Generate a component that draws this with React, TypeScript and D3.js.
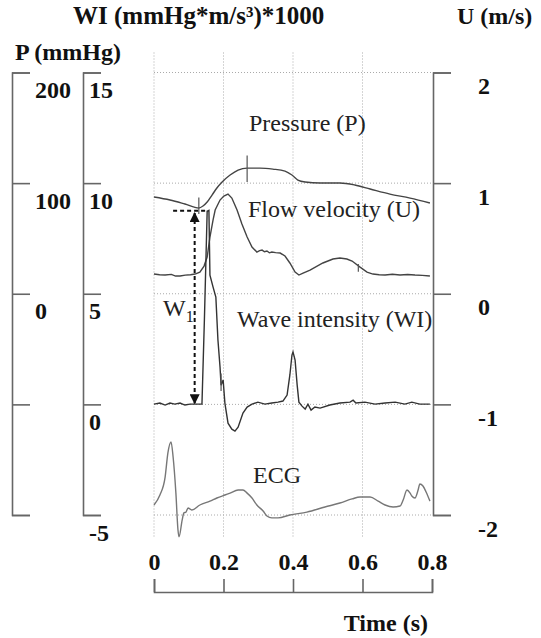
import React, { useEffect, useRef } from "react";
import * as d3 from "d3";

// time (s) ticks and the three stacked y axes
const TIME_TICKS = [0, 0.2, 0.4, 0.6, 0.8];
const P_TICKS = [200, 100, 0, -100, -200];
const WI_TICKS = [15, 10, 5, 0, -5];
const U_TICKS = [2, 1, 0, -1, -2];

// pressure, mmHg  [t, P]
const pressure: [number, number][] = [
  [0, 87.4], [0.046, 84.7], [0.089, 81.1], [0.129, 77.5], [0.141, 79.3], [0.153, 82.9],
  [0.167, 89.2], [0.181, 95.6], [0.196, 101.0], [0.219, 107.3], [0.242, 111.8],
  [0.268, 113.6], [0.305, 113.6], [0.342, 112.7], [0.377, 110.9], [0.397, 107.3],
  [0.414, 102.8], [0.435, 101.0], [0.478, 100.1], [0.535, 100.1], [0.578, 98.3],
  [0.622, 94.7], [0.679, 90.1], [0.737, 86.5], [0.794, 82.0],
];

// flow velocity, m/s  [t, U]
const flow: [number, number][] = [
  [0, 0.178], [0.016, 0.172], [0.032, 0.169], [0.05, 0.175], [0.062, 0.16], [0.075, 0.16],
  [0.09, 0.168], [0.105, 0.172], [0.118, 0.178], [0.132, 0.196], [0.144, 0.25],
  [0.153, 0.332], [0.161, 0.513], [0.17, 0.667], [0.176, 0.757], [0.19, 0.847],
  [0.201, 0.883], [0.213, 0.901], [0.224, 0.865], [0.239, 0.757], [0.253, 0.631],
  [0.268, 0.513], [0.282, 0.422], [0.296, 0.377], [0.304, 0.39], [0.311, 0.395],
  [0.318, 0.38], [0.325, 0.386], [0.332, 0.37], [0.339, 0.377], [0.35, 0.372],
  [0.363, 0.368], [0.377, 0.341], [0.391, 0.278], [0.406, 0.196], [0.417, 0.169],
  [0.429, 0.187], [0.449, 0.214], [0.486, 0.278], [0.515, 0.314], [0.535, 0.323],
  [0.555, 0.314], [0.57, 0.296], [0.593, 0.241], [0.613, 0.196], [0.63, 0.178],
  [0.648, 0.172], [0.665, 0.169], [0.686, 0.176], [0.708, 0.169], [0.73, 0.174],
  [0.751, 0.169], [0.772, 0.166], [0.794, 0.16],
];

// wave intensity, (mmHg*m/s^3)*1000  [t, WI]
const waveIntensity: [number, number][] = [
  [0, 0.01], [0.017, 0.06], [0.032, -0.03], [0.046, 0.06], [0.06, 0.01], [0.075, 0.06],
  [0.089, -0.03], [0.104, 0.01], [0.121, 0.01], [0.132, 0.01], [0.138, 0.01],
  [0.145, 3.81], [0.153, 8.73], [0.158, 8.77], [0.161, 5.84], [0.17, 5.3], [0.178, 4.85],
  [0.184, 2.91], [0.19, 1.69], [0.193, 0.87], [0.199, 1.1], [0.204, 0.06], [0.213, -0.85],
  [0.224, -1.12], [0.233, -1.21], [0.242, -1.03], [0.256, -0.39], [0.268, -0.12],
  [0.282, 0.01], [0.299, 0.1], [0.319, 0.01], [0.339, 0.06], [0.357, 0.1], [0.371, 0.15],
  [0.383, 0.42], [0.391, 1.33], [0.397, 2.23], [0.4, 2.37], [0.406, 2.0], [0.412, 0.87],
  [0.417, 0.1], [0.426, -0.08], [0.435, -0.21], [0.443, 0.01], [0.452, -0.26],
  [0.463, -0.12], [0.478, -0.17], [0.506, -0.03], [0.535, 0.06], [0.564, 0.1],
  [0.573, 0.19], [0.581, 0.06], [0.607, 0.1], [0.636, 0.01], [0.665, 0.06], [0.694, 0.1],
  [0.722, 0.01], [0.742, 0.1], [0.765, 0.01], [0.794, 0.01],
];

// ECG, arbitrary mV  [t, mV]
const ecg: [number, number][] = [
  [0, 0.137], [0.017, 0.274], [0.032, 0.52], [0.04, 0.85], [0.049, 1.0], [0.055, 0.795],
  [0.063, 0.3], [0.069, -0.205], [0.072, -0.3], [0.081, -0.07], [0.086, 0.03],
  [0.092, 0.04], [0.098, 0.096], [0.104, 0.082], [0.109, 0.068], [0.132, 0.137],
  [0.161, 0.19], [0.181, 0.233], [0.204, 0.274], [0.219, 0.3], [0.242, 0.342],
  [0.256, 0.342], [0.268, 0.3], [0.282, 0.233], [0.296, 0.137], [0.314, 0.055],
  [0.325, -0.014], [0.339, -0.04], [0.357, -0.04], [0.391, 0], [0.44, 0.04],
  [0.492, 0.11], [0.535, 0.164], [0.57, 0.22], [0.593, 0.247], [0.622, 0.247],
  [0.645, 0.19], [0.665, 0.137], [0.688, 0.11], [0.708, 0.123], [0.717, 0.205],
  [0.728, 0.342], [0.737, 0.3], [0.742, 0.26], [0.751, 0.233], [0.76, 0.342],
  [0.765, 0.425], [0.774, 0.397], [0.783, 0.315], [0.794, 0.19],
];

// small vertical markers on the traces  [t, from, to]
const pressureMarks: [number, number, number][] = [[0.129, 72, 87], [0.268, 101, 125]];
const wiMarks: [number, number, number][] = [[0.193, 0.6, 1.4]];
const flowMarks: [number, number, number][] = [[0.588, 0.2, 0.27]];

// W1 peak of forward compression wave
const W1_PEAK = 8.75;
const W1_TIME = 0.117;

const App = () => {
  const svgRef = useRef<SVGSVGElement>(null);

  useEffect(() => {
    const width = 541;
    const height = 638;
    const top = 72.5;
    const bottom = 515;
    const serif = "'Liberation Serif', 'Times New Roman', serif";

    const svg = d3.select(svgRef.current);
    svg.selectAll("*").remove();
    svg.attr("width", width).attr("height", height);
    svg.append("rect").attr("width", width).attr("height", height).attr("fill", "white");

    const x = d3.scaleLinear().domain([0, 0.8]).range([154, 432]);
    const pY = d3.scaleLinear().domain([-200, 200]).range([bottom, top]);
    const wiY = d3.scaleLinear().domain([-5, 15]).range([bottom, top]);
    const uY = d3.scaleLinear().domain([-2, 2]).range([bottom, top]);
    // ECG has no axis: 0 mV on the lowest grid line
    const ecgY = d3.scaleLinear().domain([0, 1]).range([wiY(-5), wiY(-5) - 73]);

    // grid
    const grid = svg.append("g")
      .attr("stroke", "#aaa")
      .attr("stroke-width", 1)
      .attr("stroke-dasharray", "1,2");
    WI_TICKS.forEach(v => {
      grid.append("line")
        .attr("x1", x(0)).attr("x2", x(0.8))
        .attr("y1", wiY(v)).attr("y2", wiY(v));
    });
    TIME_TICKS.slice(0, 4).forEach(t => {
      grid.append("line")
        .attr("x1", x(t)).attr("x2", x(t))
        .attr("y1", top - 20).attr("y2", bottom + 23);
    });

    const styleAxis = (g: any, labelDx: number, labelDy: number) => {
      g.selectAll("path, line").attr("stroke", "#666").attr("stroke-width", 1.6);
      g.selectAll("text")
        .attr("x", labelDx)
        .attr("dy", labelDy)
        .attr("fill", "#111")
        .style("font-family", serif)
        .style("font-weight", "bold")
        .style("font-size", "24px");
    };

    // P axis
    svg.append("g")
      .attr("transform", "translate(12,0)")
      .call(d3.axisRight(pY).tickValues(P_TICKS).tickSize(18).tickSizeOuter(18)
        .tickFormat(d => (+d >= 0 ? String(d) : "")))
      .call(g => styleAxis(g, 23, 25));

    // WI axis
    svg.append("g")
      .attr("transform", "translate(83,0)")
      .call(d3.axisRight(wiY).tickValues(WI_TICKS).tickSize(18).tickSizeOuter(18)
        .tickFormat(d => String(d)))
      .call(g => styleAxis(g, 6, 25));

    // U axis
    svg.append("g")
      .attr("transform", "translate(433,0)")
      .call(d3.axisRight(uY).tickValues(U_TICKS).tickSize(18).tickSizeOuter(18)
        .tickFormat(d => String(d)))
      .call(g => styleAxis(g, 45, 21));

    // time axis (bracket under the plot)
    const tAxis = svg.append("g")
      .attr("transform", "translate(0,592)")
      .call(d3.axisTop(x).tickValues(TIME_TICKS).tickSize(13).tickSizeOuter(13)
        .tickFormat(d => String(d)));
    tAxis.selectAll("path, line").attr("stroke", "#666").attr("stroke-width", 1.6);
    tAxis.selectAll("text")
      .attr("y", -22)
      .attr("fill", "#111")
      .style("font-family", serif)
      .style("font-weight", "bold")
      .style("font-size", "24px");

    // axis titles
    const title = (tx: number, ty: number, s: string, size: number, anchor = "start") =>
      svg.append("text")
        .attr("x", tx).attr("y", ty)
        .attr("text-anchor", anchor)
        .attr("fill", "#111")
        .style("font-family", serif)
        .style("font-weight", "bold")
        .style("font-size", `${size}px`)
        .text(s);
    title(73, 24, "WI (mmHg*m/s³)*1000", 25);
    title(15, 60, "P (mmHg)", 24);
    title(457, 24, "U (m/s)", 24);
    title(428, 631, "Time (s)", 24, "end");

    // traces
    const trace = (data: [number, number][], y: any, color: string, curve: any) =>
      svg.append("path")
        .datum(data)
        .attr("fill", "none")
        .attr("stroke", color)
        .attr("stroke-width", 1.4)
        .attr("d", d3.line<[number, number]>().x(d => x(d[0])).y(d => y(d[1])).curve(curve));

    trace(pressure, pY, "#444", d3.curveMonotoneX);
    trace(flow, uY, "#444", d3.curveLinear);
    trace(waveIntensity, wiY, "#333", d3.curveLinear);
    trace(ecg, ecgY, "#777", d3.curveMonotoneX);

    const marks = (list: [number, number, number][], y: any) =>
      list.forEach(([t, a, b]) => {
        svg.append("line")
          .attr("x1", x(t)).attr("x2", x(t))
          .attr("y1", y(a)).attr("y2", y(b))
          .attr("stroke", "#555").attr("stroke-width", 1.2);
      });
    marks(pressureMarks, pY);
    marks(wiMarks, wiY);
    marks(flowMarks, uY);

    // W1 annotation
    const defs = svg.append("defs");
    ["w1-end", "w1-start"].forEach((id, i) => {
      defs.append("marker")
        .attr("id", id)
        .attr("viewBox", "0 0 10 10")
        .attr("refX", 9).attr("refY", 5)
        .attr("markerWidth", 5).attr("markerHeight", 5)
        .attr("orient", i === 0 ? "auto" : "auto-start-reverse")
        .append("path")
        .attr("d", "M0,0 L10,5 L0,10 Z")
        .attr("fill", "#111");
    });
    svg.append("line")
      .attr("x1", x(0.055)).attr("x2", x(0.155))
      .attr("y1", wiY(W1_PEAK)).attr("y2", wiY(W1_PEAK))
      .attr("stroke", "#111").attr("stroke-width", 2)
      .attr("stroke-dasharray", "4,3");
    svg.append("line")
      .attr("x1", x(W1_TIME)).attr("x2", x(W1_TIME))
      .attr("y1", wiY(W1_PEAK - 0.1)).attr("y2", wiY(0.05))
      .attr("stroke", "#111").attr("stroke-width", 2)
      .attr("stroke-dasharray", "4,3")
      .attr("marker-start", "url(#w1-start)")
      .attr("marker-end", "url(#w1-end)");

    // trace labels
    const label = (tx: number, ty: number, s: string) =>
      svg.append("text")
        .attr("x", tx).attr("y", ty)
        .attr("fill", "#222")
        .style("font-family", serif)
        .style("font-size", "24px")
        .text(s);
    label(249, 131, "Pressure (P)");
    label(248, 217, "Flow velocity (U)");
    label(237, 327, "Wave intensity (WI)");
    label(253, 483, "ECG");
    const w1 = label(163, 316, "W");
    w1.append("tspan").attr("dy", 6).style("font-size", "16px").text("1");
  }, []);

  return (
    <div style={{ position: "absolute", left: 0, top: 0 }}>
      <svg ref={svgRef}></svg>
    </div>
  );
};

export default App;
